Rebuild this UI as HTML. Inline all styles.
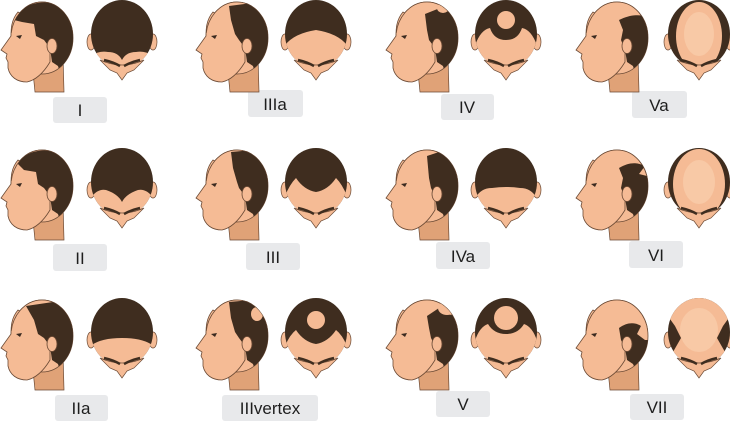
<!DOCTYPE html><html><head><style>body{margin:0;background:#fff}svg{display:block}text{font-family:"Liberation Sans",sans-serif;font-size:17px;fill:#1e1e1e;text-anchor:middle}</style></head><body>
<svg width="730" height="422" viewBox="0 0 730 422" xmlns="http://www.w3.org/2000/svg">
<defs>
<clipPath id="sk"><ellipse cx="42" cy="38" rx="31" ry="36"/></clipPath>
<clipPath id="sktop"><rect x="0" y="-5" width="90" height="38"/></clipPath>
<clipPath id="tk"><ellipse cx="34" cy="34" rx="31" ry="34"/></clipPath>
<g id="side">
<path d="M32,62 L35,92 L64,92 L63,56 Z" fill="#e0a277" stroke="#6b4a35" stroke-width=".7"/>
<ellipse cx="42" cy="38" rx="31" ry="36" fill="#f5bb95" stroke="#6b4a35" stroke-width=".8"/>
<path d="M18,12 C11,20 11,30 11,36 L1,50 L7,54 L6,58 L8,62 L8,68 C10,77 17,82 27,82 C36,80 44,72 50,62 L50,30 Z" fill="#f5bb95" stroke="#6b4a35" stroke-width=".8"/>
<g clip-path="url(#sktop)"><ellipse cx="42" cy="38" rx="31" ry="36" fill="#f5bb95"/><ellipse cx="42" cy="38" rx="31" ry="36" fill="none" stroke="#6b4a35" stroke-width=".8"/></g>
<path d="M16,36 L22,35 L20,39 Z" fill="#3a2a20"/>
</g>
<g id="ear"><ellipse cx="52" cy="46" rx="5" ry="7.5" fill="#f5bb95" stroke="#6b4a35" stroke-width=".8"/></g>
<g id="topb">
<ellipse cx="3" cy="42" rx="4" ry="8" fill="#f5bb95" stroke="#6b4a35" stroke-width=".7"/>
<ellipse cx="65" cy="42" rx="4" ry="8" fill="#f5bb95" stroke="#6b4a35" stroke-width=".7"/>
<ellipse cx="34" cy="34" rx="31" ry="34" fill="#3f2d1f"/>
</g>
<g id="topf">
<path d="M12,60 Q34,70 56,60 L46,70 L39,73 L34,80 L29,73 L22,70 Z" fill="#f5bb95" stroke="#6b4a35" stroke-width=".7"/>
<path d="M16,60 Q25,62 32,66 M52,60 Q43,62 36,66" stroke="#3f2d1f" stroke-width="2.5" fill="none"/>
</g>
</defs>
<g fill="#e8e9eb">
<rect x="53" y="97" width="54" height="26" rx="3"/><rect x="248" y="90" width="55" height="27" rx="3"/><rect x="441" y="94" width="53" height="26" rx="3"/><rect x="632" y="91" width="55" height="27" rx="3"/>
<rect x="53" y="244" width="54" height="27" rx="3"/><rect x="246" y="243" width="54" height="27" rx="3"/><rect x="436" y="242" width="54" height="27" rx="3"/><rect x="629" y="241" width="54" height="27" rx="3"/>
<rect x="55" y="395" width="53" height="26" rx="3"/><rect x="222" y="395" width="96" height="26" rx="3"/><rect x="436" y="391" width="54" height="26" rx="3"/><rect x="630" y="394" width="54" height="26" rx="3"/>
</g>
<text x="80" y="116">I</text><text x="275" y="110">IIIa</text><text x="467" y="113">IV</text><text x="659" y="111">Va</text>
<text x="80" y="264">II</text><text x="273" y="263">III</text><text x="463" y="262">IVa</text><text x="656" y="261">VI</text>
<text x="81" y="414">IIa</text><text x="270" y="414">IIIvertex</text><text x="463" y="410">V</text><text x="657" y="413">VII</text>

<!-- Row 1 -->
<g transform="translate(0,0)"><use href="#side"/><path clip-path="url(#sk)" fill="#3f2d1f" d="M14,20 C20,4 40,0 56,4 L80,10 L80,80 L62,80 L58,66 L52,62 L50,48 L44,40 L36,36 L34,24 L22,22 Z"/><use href="#ear"/></g>
<g transform="translate(88,0)"><use href="#topb"/><path clip-path="url(#tk)" fill="#f5bb95" d="M0,58 Q10,50 20,52 Q30,52 34,60 Q38,52 48,52 Q58,50 68,58 L68,70 L0,70 Z"/><use href="#topf"/></g>

<g transform="translate(195,0)"><use href="#side"/><path clip-path="url(#sk)" fill="#3f2d1f" d="M34,6 L80,0 L80,80 L62,80 L58,66 L52,62 L50,48 L44,40 L40,34 L36,20 Z"/><use href="#ear"/></g>
<g transform="translate(282,0)"><use href="#topb"/><path clip-path="url(#tk)" fill="#f5bb95" d="M0,50 Q8,34 34,30 Q60,34 68,50 L68,70 L0,70 Z"/><use href="#topf"/></g>

<g transform="translate(385,0)"><use href="#side"/><g clip-path="url(#sk)"><path fill="#3f2d1f" d="M40,14 L60,6 L80,14 L80,80 L62,80 L58,66 L52,62 L50,48 L44,40 L42,30 Z"/><ellipse cx="58" cy="8" rx="6" ry="5" fill="#f5bb95"/></g><use href="#ear"/></g>
<g transform="translate(472,0)"><use href="#topb"/><path clip-path="url(#tk)" fill="#f5bb95" d="M0,56 Q6,30 18,28 Q22,40 34,40 Q46,40 50,28 Q62,30 68,56 L68,70 L0,70 Z"/><circle cx="34" cy="20" r="9" fill="#f5bb95"/><use href="#topf"/></g>

<g transform="translate(575,0)"><use href="#side"/><path clip-path="url(#sk)" fill="#3f2d1f" d="M44,20 C56,14 66,14 76,18 L80,80 L62,80 L58,66 L52,62 L50,50 L46,40 L48,30 Z"/><use href="#ear"/></g>
<g transform="translate(665,0)"><use href="#topb"/><ellipse cx="34" cy="36" rx="23" ry="34" fill="#f5bb95"/><ellipse cx="34" cy="34" rx="15" ry="22" fill="#f8c9a6"/><use href="#topf"/></g>

<!-- Row 2 -->
<g transform="translate(0,148)"><use href="#side"/><path clip-path="url(#sk)" fill="#3f2d1f" d="M18,16 C24,4 40,0 56,4 L80,10 L80,80 L62,80 L58,66 L52,62 L50,48 L44,40 L38,36 L36,24 L24,22 Z"/><use href="#ear"/></g>
<g transform="translate(88,148)"><use href="#topb"/><path clip-path="url(#tk)" fill="#f5bb95" d="M0,54 Q8,40 18,42 Q30,46 34,54 Q38,46 50,42 Q60,40 68,54 L68,70 L0,70 Z"/><use href="#topf"/></g>

<g transform="translate(195,148)"><use href="#side"/><path clip-path="url(#sk)" fill="#3f2d1f" d="M36,4 L80,0 L80,80 L62,80 L58,66 L52,62 L50,48 L44,40 L42,34 L38,20 Z"/><use href="#ear"/></g>
<g transform="translate(282,148)"><use href="#topb"/><path clip-path="url(#tk)" fill="#f5bb95" d="M0,56 Q6,38 14,30 Q22,42 34,44 Q46,42 54,30 Q62,38 68,56 L68,70 L0,70 Z"/><use href="#topf"/></g>

<g transform="translate(385,148)"><use href="#side"/><path clip-path="url(#sk)" fill="#3f2d1f" d="M42,8 L60,2 L80,14 L80,80 L62,80 L58,66 L52,62 L50,48 L46,40 L44,30 Z"/><use href="#ear"/></g>
<g transform="translate(472,148)"><use href="#topb"/><path clip-path="url(#tk)" fill="#f5bb95" d="M0,60 Q4,40 20,40 Q34,38 48,40 Q64,40 68,60 L68,70 L0,70 Z"/><use href="#topf"/></g>

<g transform="translate(575,148)"><use href="#side"/><path clip-path="url(#sk)" fill="#3f2d1f" d="M44,20 C54,14 62,14 70,18 L64,26 L72,28 L80,30 L80,80 L62,80 L58,66 L52,62 L50,50 L46,40 L48,30 Z"/><use href="#ear"/></g>
<g transform="translate(665,148)"><use href="#topb"/><ellipse cx="34" cy="36" rx="26" ry="35" fill="#f5bb95"/><ellipse cx="34" cy="34" rx="16" ry="22" fill="#f8c9a6"/><use href="#topf"/></g>

<!-- Row 3 -->
<g transform="translate(0,298)"><use href="#side"/><path clip-path="url(#sk)" fill="#3f2d1f" d="M26,8 L80,0 L80,80 L62,80 L58,66 L52,62 L50,48 L44,40 L38,36 L34,22 Z"/><use href="#ear"/></g>
<g transform="translate(88,298)"><use href="#topb"/><path clip-path="url(#tk)" fill="#f5bb95" d="M0,50 Q10,40 34,40 Q58,40 68,50 L68,70 L0,70 Z"/><use href="#topf"/></g>

<g transform="translate(195,298)"><use href="#side"/><g clip-path="url(#sk)"><path fill="#3f2d1f" d="M34,4 L80,0 L80,80 L62,80 L58,66 L52,62 L50,48 L44,40 L40,34 L36,20 Z"/><ellipse cx="62" cy="16" rx="6" ry="7" fill="#f5bb95"/></g><use href="#ear"/></g>
<g transform="translate(282,298)"><use href="#topb"/><path clip-path="url(#tk)" fill="#f5bb95" d="M0,56 Q6,38 14,32 Q22,44 34,46 Q46,44 54,32 Q62,38 68,56 L68,70 L0,70 Z"/><circle cx="34" cy="22" r="9" fill="#f5bb95"/><use href="#topf"/></g>

<g transform="translate(385,298)"><use href="#side"/><g clip-path="url(#sk)"><path fill="#3f2d1f" d="M42,18 L54,10 L62,16 L80,20 L80,80 L62,80 L58,66 L52,62 L50,48 L46,40 L44,30 Z"/><ellipse cx="62" cy="10" rx="9" ry="7" fill="#f5bb95"/></g><use href="#ear"/></g>
<g transform="translate(472,298)"><use href="#topb"/><path clip-path="url(#tk)" fill="#f5bb95" d="M0,56 Q4,30 16,26 Q22,36 34,36 Q46,36 52,26 Q64,30 68,56 L68,70 L0,70 Z"/><circle cx="34" cy="20" r="12" fill="#f5bb95"/><use href="#topf"/></g>

<g transform="translate(575,298)"><use href="#side"/><path clip-path="url(#sk)" fill="#3f2d1f" d="M44,30 C52,24 60,24 66,28 L62,36 L70,42 L80,42 L80,80 L64,80 L58,66 L52,62 L50,50 L46,42 Z"/><use href="#ear"/></g>
<g transform="translate(665,298)"><use href="#topb"/><path clip-path="url(#tk)" fill="#f5bb95" d="M0,0 L68,0 L68,14 L58,28 L52,40 L60,54 L68,60 L68,70 L0,70 L0,60 L8,54 L16,40 L10,28 L0,14 Z"/><ellipse cx="34" cy="32" rx="19" ry="22" fill="#f8c9a6"/><use href="#topf"/></g>
</svg>
</body></html>
